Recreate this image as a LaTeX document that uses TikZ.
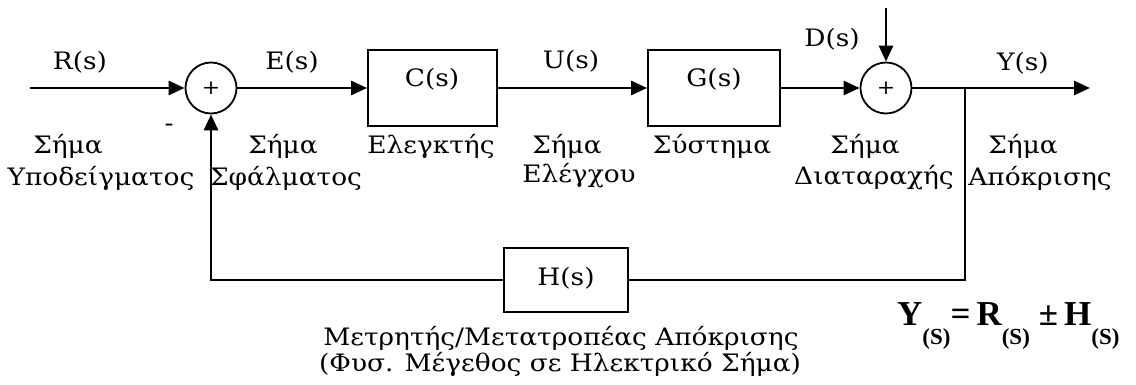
\documentclass[tikz,border=0pt]{standalone}
\usepackage{fontspec}
\setmainfont[FakeStretch=1.1]{DejaVu Serif}
\newfontfamily\eqfont{Liberation Serif}
\usetikzlibrary{arrows.meta}
\begin{document}
\begin{tikzpicture}[x=1pt,y=-1pt,
  lbl/.style={inner sep=0pt, font=\fontsize{24}{28}\selectfont},
  blk/.style={draw, line width=1.8pt, inner sep=0pt},
  sumn/.style={draw, circle, line width=1.8pt, minimum size=51pt, inner sep=0pt, font=\fontsize{20}{20}\selectfont},
  wire/.style={line width=2.8pt},
  sig/.style={wire, -{Triangle[length=16pt,width=14pt]}}
]
\useasboundingbox (0,0) rectangle (1136,385);
% nodes
\coordinate (in) at (30,88);
\node[sumn] (s1) at (211,88) {+};
\node[blk, minimum width=129pt, minimum height=76pt] (C) at (432.5,88) {};
\node[lbl] (Ct) at (432,79) {C(s)};
\node[blk, minimum width=132pt, minimum height=76pt] (G) at (714,88) {};
\node[lbl] (Gt) at (714,79) {G(s)};
\node[sumn] (s2) at (886,88) {+};
\coordinate (dtop) at (886,8);
\coordinate (br) at (965,88);
\coordinate (out) at (1090,88);
\node[blk, minimum width=124pt, minimum height=64pt] (H) at (566,280) {};
\node[lbl] (Ht) at (566,278) {H(s)};
% connectors
\draw[sig] (in) -- (s1);
\draw[sig] (s1) -- (C);
\draw[sig] (C) -- (G);
\draw[sig] (G) -- (s2);
\draw[sig] (dtop) -- (s2);
\draw[wire] (s2) -- (br);
\draw[sig] (br) -- (out);
\draw[wire] (br) -- (br |- H) -- (H);
\draw[sig] (H) -- (H -| s1) -- (s1);
% signal labels
\node[lbl] (Rl) at (80,62) {R(s)};
\node[lbl] (El) at (292,62) {E(s)};
\node[lbl] (Ul) at (571,61) {U(s)};
\node[lbl] (Dl) at (832,39) {D(s)};
\node[lbl] (Yl) at (1023,63) {Y(s)};
\node[lbl] (minus) at (169,128) {-};
% descriptions
\node[lbl] (d1a) at (68,146) {Σήμα};
\node[lbl] (d1b) at (101,178) {Υποδείγματος};
\node[lbl] (d2a) at (283,146) {Σήμα};
\node[lbl] (d2b) at (286,178) {Σφάλματος};
\node[lbl] (d3) at (431,146) {Ελεγκτής};
\node[lbl] (d4a) at (567,146) {Σήμα};
\node[lbl] (d4b) at (579,176) {Ελέγχου};
\node[lbl] (d5) at (712,146) {Σύστημα};
\node[lbl] (d6a) at (865,146) {Σήμα};
\node[lbl] (d6b) at (874,178) {Διαταραχής};
\node[lbl] (d7a) at (1023,146) {Σήμα};
\node[lbl] (d7b) at (1040,178) {Απόκρισης};
\node[lbl] (h1) at (561,338) {Μετρητής/Μετατροπέας Απόκρισης};
\node[lbl] (h2) at (560,364) {(Φυσ. Μέγεθος σε Ηλεκτρικό Σήμα)};
% equation
\node[anchor=base west, inner sep=0pt] (eq) at (897,325) {\eqfont\bfseries
  \fontsize{35}{40}\selectfont Y\raisebox{-19pt}{\fontsize{23}{26}\selectfont (S)}=\hspace{6pt}R\raisebox{-19pt}{\fontsize{23}{26}\selectfont (S)}\hspace{9pt}±\hspace{6pt}H\raisebox{-19pt}{\fontsize{23}{26}\selectfont (S)}};
\end{tikzpicture}
\end{document}
